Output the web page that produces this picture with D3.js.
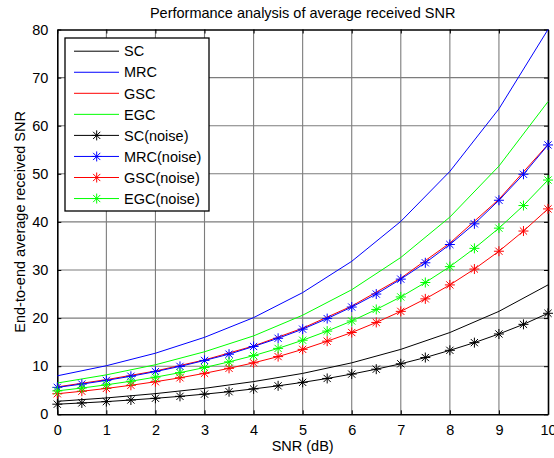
<!DOCTYPE html>
<html>
<head>
<meta charset="utf-8">
<script src="https://cdn.jsdelivr.net/npm/d3@7"></script>
<style>
  body { margin: 0; background: #fff; }
  text { font-family: "Liberation Sans", Arial, sans-serif; fill: #000; }
</style>
</head>
<body>
<div class="chart"></div>
<script>
// values

var snrInt = [0, 1, 2, 3, 4, 5, 6, 7, 8, 9, 10];
var snrHalf = [0, 0.5, 1, 1.5, 2, 2.5, 3, 3.5, 4, 4.5, 5, 5.5, 6, 6.5, 7, 7.5, 8, 8.5, 9, 9.5, 10];

var scVals  = [2.7, 3.4, 4.3, 5.4, 6.8, 8.5, 10.7, 13.5, 17.0, 21.4, 26.9];
var mrcVals = [8.0, 10.1, 12.7, 16.0, 20.1, 25.3, 31.8, 40.1, 50.5, 63.5, 80.0];
var gscVals = [5.7, 7.2, 9.0, 11.3, 14.2, 17.9, 22.5, 28.3, 35.6, 44.7, 56.1];
var egcVals = [6.5, 8.2, 10.3, 13.0, 16.3, 20.6, 25.9, 32.6, 41.0, 51.6, 65.0];

var scNoise  = [2.1, 2.36, 2.64, 2.97, 3.33, 3.73, 4.19, 4.70, 5.28, 5.92, 6.64, 7.45, 8.36, 9.38, 10.5, 11.8, 13.3, 14.9, 16.7, 18.7, 21.0];
var mrcNoise = [5.6, 6.28, 7.05, 7.91, 8.88, 9.96, 11.2, 12.5, 14.1, 15.8, 17.7, 19.9, 22.3, 25.0, 28.1, 31.5, 35.3, 39.6, 44.5, 49.9, 56.0];
var gscNoise = [4.27, 4.79, 5.38, 6.03, 6.77, 7.59, 8.52, 9.56, 10.7, 12.0, 13.5, 15.2, 17.0, 19.1, 21.4, 24.0, 26.9, 30.2, 33.9, 38.1, 42.7];
var egcNoise = [4.87, 5.46, 6.13, 6.88, 7.72, 8.66, 9.72, 10.9, 12.2, 13.7, 15.4, 17.3, 19.4, 21.8, 24.4, 27.4, 30.7, 34.5, 38.7, 43.4, 48.7];

var seriesNames = ["SC", "MRC", "GSC", "EGC", "SC(noise)", "MRC(noise)", "GSC(noise)", "EGC(noise)"];
var seriesColors = ["#000000", "#0000ff", "#ff0000", "#00ff00", "#000000", "#0000ff", "#ff0000", "#00ff00"];

var xTicks = [0, 1, 2, 3, 4, 5, 6, 7, 8, 9, 10];
var yTicks = [0, 10, 20, 30, 40, 50, 60, 70, 80];

// Set-up the plot dimensions
var svgWidth = 554;
var svgHeight = 458;
var margin = { top: 29.5, right: 6, bottom: 43.7, left: 57.3 };
var width = svgWidth - margin.left - margin.right;
var height = svgHeight - margin.top - margin.bottom;

var svg = d3.select(".chart")
    .append("svg")
    .attr("width", svgWidth)
    .attr("height", svgHeight);

var chart = svg.append("g")
    .attr("transform", "translate(" + margin.left + "," + margin.top + ")");

var xScale = d3.scaleLinear().domain([0, 10]).range([0, width]);
var yScale = d3.scaleLinear().domain([0, 80]).range([height, 0]);

// grid
chart.append("g").selectAll("line")
    .data(xTicks.slice(1, -1))
    .enter().append("line")
    .attr("x1", function(d) { return xScale(d); })
    .attr("x2", function(d) { return xScale(d); })
    .attr("y1", 0).attr("y2", height)
    .attr("stroke", "#7c7c7c").attr("stroke-width", 1.1);

chart.append("g").selectAll("line")
    .data(yTicks.slice(1, -1))
    .enter().append("line")
    .attr("y1", function(d) { return yScale(d); })
    .attr("y2", function(d) { return yScale(d); })
    .attr("x1", 0).attr("x2", width)
    .attr("stroke", "#7c7c7c").attr("stroke-width", 1.1);

// axes (ticks inside, on all four sides)
var bottomAxis = d3.axisBottom(xScale).tickValues(xTicks).tickSizeInner(-4).tickSizeOuter(0).tickPadding(10);
var leftAxis = d3.axisLeft(yScale).tickValues(yTicks).tickSizeInner(-4).tickSizeOuter(0).tickPadding(9);
var topAxis = d3.axisTop(xScale).tickValues(xTicks).tickSizeInner(-4).tickSizeOuter(0).tickFormat("");
var rightAxis = d3.axisRight(yScale).tickValues(yTicks).tickSizeInner(-4).tickSizeOuter(0).tickFormat("");

function styleAxis(g) {
    g.selectAll("path").attr("stroke", "#000").attr("stroke-width", 1.6);
    g.selectAll("line").attr("stroke", "#000");
    g.selectAll("text").attr("font-size", "14.5px").attr("font-family", "Liberation Sans, Arial, sans-serif").attr("fill", "#000");
}

chart.append("g").attr("transform", "translate(0," + height + ")").call(bottomAxis).call(styleAxis);
chart.append("g").call(leftAxis).call(styleAxis);
chart.append("g").call(topAxis).call(styleAxis);
chart.append("g").attr("transform", "translate(" + width + ",0)").call(rightAxis).call(styleAxis);

// curves
var line = d3.line()
    .x(function(d) { return xScale(d[0]); })
    .y(function(d) { return yScale(d[1]); });

var solidSets = [scVals, mrcVals, gscVals, egcVals];
var noiseSets = [scNoise, mrcNoise, gscNoise, egcNoise];

var starPath = "M-5,0H5M0,-5V5M-3.6,-3.6L3.6,3.6M-3.6,3.6L3.6,-3.6";

solidSets.forEach(function(vals, i) {
    chart.append("path")
        .datum(d3.zip(snrInt, vals))
        .attr("d", line)
        .attr("fill", "none")
        .attr("stroke", seriesColors[i])
        .attr("stroke-width", 1);
});

noiseSets.forEach(function(vals, i) {
    var pts = d3.zip(snrHalf, vals);
    var col = seriesColors[i + 4];
    chart.append("path")
        .datum(pts)
        .attr("d", line)
        .attr("fill", "none")
        .attr("stroke", col)
        .attr("stroke-width", 1);
    chart.append("g").selectAll("path")
        .data(pts)
        .enter().append("path")
        .attr("transform", function(d) { return "translate(" + xScale(d[0]) + "," + yScale(d[1]) + ")"; })
        .attr("d", starPath)
        .attr("fill", "none")
        .attr("stroke", col)
        .attr("stroke-width", 1);
});

// legend
var legend = svg.append("g").attr("transform", "translate(65,38)");
legend.append("rect")
    .attr("width", 144).attr("height", 173)
    .attr("fill", "#fff").attr("stroke", "#000").attr("stroke-width", 1.3);

seriesNames.forEach(function(name, i) {
    var yy = 13.2 + i * 21.05;
    legend.append("line")
        .attr("x1", 9).attr("x2", 54)
        .attr("y1", yy).attr("y2", yy)
        .attr("stroke", seriesColors[i]).attr("stroke-width", 1);
    if (i >= 4) {
        legend.append("path")
            .attr("transform", "translate(31.7," + yy + ")")
            .attr("d", starPath)
            .attr("fill", "none")
            .attr("stroke", seriesColors[i]);
    }
    legend.append("text")
        .attr("x", 59).attr("y", yy + 5.2)
        .attr("font-size", "14.5px")
        .text(name);
});

// title and axis labels
svg.append("text")
    .attr("x", margin.left + width / 2).attr("y", 18)
    .attr("text-anchor", "middle")
    .attr("font-size", "14.5px")
    .text("Performance analysis of average received SNR");

svg.append("text")
    .attr("x", margin.left + width / 2).attr("y", 450.5)
    .attr("text-anchor", "middle")
    .attr("font-size", "14.5px")
    .text("SNR (dB)");

svg.append("text")
    .attr("transform", "translate(25," + (margin.top + height / 2) + ") rotate(-90)")
    .attr("text-anchor", "middle")
    .attr("font-size", "14.5px")
    .text("End-to-end average received SNR");
</script>
</body>
</html>
